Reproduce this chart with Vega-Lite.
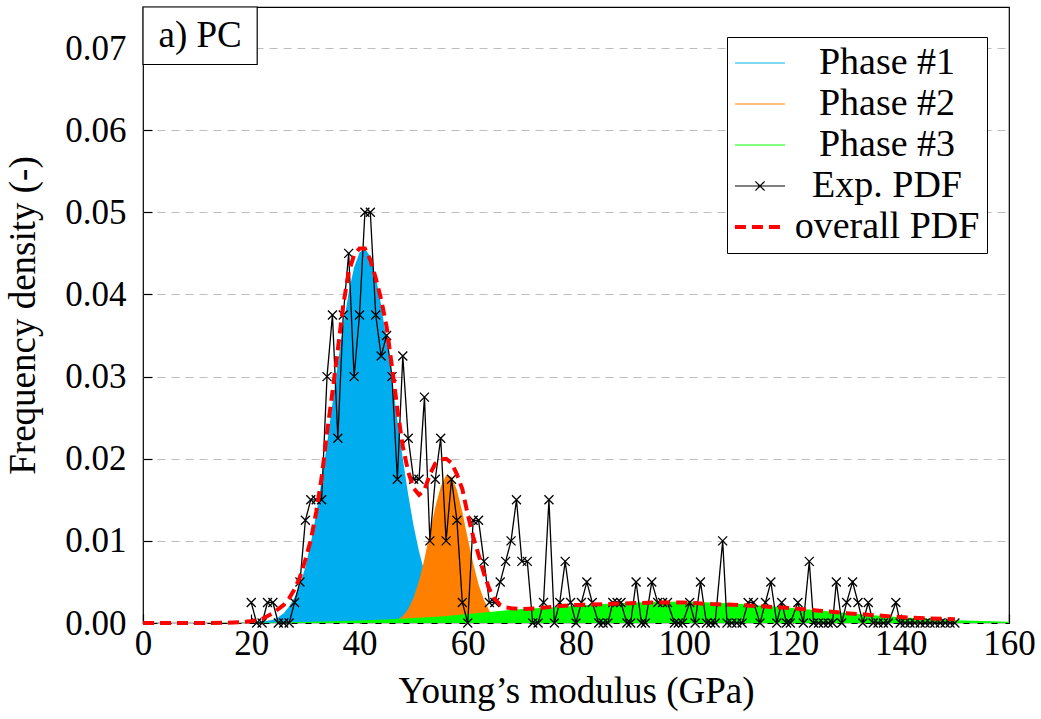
{
  "$schema": "https://vega.github.io/schema/vega-lite/v6.json",
  "width": 866,
  "height": 616,
  "autosize": {"type": "none"},
  "padding": {"left": 143, "top": 7, "right": 32, "bottom": 96},
  "background": "white",
  "config": {
    "view": {"stroke": "black", "strokeWidth": 1.2},
    "font": "Liberation Serif",
    "axis": {
      "labelFont": "Liberation Serif", "titleFont": "Liberation Serif",
      "labelFontSize": 35, "titleFontSize": 37, "titleFontWeight": "normal",
      "labelColor": "black", "titleColor": "black", "domain": false,
      "tickColor": "black", "tickSize": -9, "tickWidth": 1.2,
      "labelFlush": false, "labelOverlap": false
    },
    "legend": {
      "orient": "none", "legendX": 584, "legendY": 30,
      "fillColor": "white", "strokeColor": "black", "padding": 7,
      "labelFont": "Liberation Serif", "labelFontSize": 38, "labelColor": "black",
      "labelAlign": "center", "labelOffset": 108, "labelLimit": 400,
      "symbolType": "stroke", "symbolSize": 1444, "symbolStrokeWidth": 1.2, "symbolOffset": 7,
      "symbolOpacity": 1, "rowPadding": 3
    }
  },
  "datasets": {
    "p1": [
      {"x": 0, "y": 0}, {"x": 18, "y": 0.00001}, {"x": 20, "y": 0.00005}, {"x": 22, "y": 0.00016},
      {"x": 24, "y": 0.0004}, {"x": 25, "y": 0.0007}, {"x": 26, "y": 0.0012}, {"x": 27, "y": 0.002},
      {"x": 28, "y": 0.0031}, {"x": 29, "y": 0.0047}, {"x": 30, "y": 0.0068}, {"x": 31, "y": 0.0097},
      {"x": 32, "y": 0.0132}, {"x": 33, "y": 0.0173}, {"x": 34, "y": 0.0218}, {"x": 35, "y": 0.0267},
      {"x": 36, "y": 0.0316}, {"x": 37, "y": 0.0362}, {"x": 38, "y": 0.0402}, {"x": 39, "y": 0.0433},
      {"x": 40, "y": 0.0451}, {"x": 41, "y": 0.0456}, {"x": 42, "y": 0.0446}, {"x": 43, "y": 0.0422},
      {"x": 44, "y": 0.0387}, {"x": 45, "y": 0.0344}, {"x": 46, "y": 0.0296}, {"x": 47, "y": 0.0247},
      {"x": 48, "y": 0.02}, {"x": 49, "y": 0.0156}, {"x": 50, "y": 0.0118}, {"x": 51, "y": 0.0087},
      {"x": 52, "y": 0.0062}, {"x": 53, "y": 0.0043}, {"x": 54, "y": 0.0028}, {"x": 55, "y": 0.0018},
      {"x": 56, "y": 0.0012}, {"x": 57, "y": 0.0007}, {"x": 58, "y": 0.0004}, {"x": 60, "y": 0.00013},
      {"x": 62, "y": 0.00004}, {"x": 65, "y": 0}, {"x": 160, "y": 0}
    ],
    "p2": [
      {"x": 0, "y": 0}, {"x": 44, "y": 0}, {"x": 46, "y": 0.00017}, {"x": 47, "y": 0.0004},
      {"x": 48, "y": 0.00086}, {"x": 49, "y": 0.0017}, {"x": 50, "y": 0.0031}, {"x": 51, "y": 0.0051},
      {"x": 52, "y": 0.0078}, {"x": 53, "y": 0.011}, {"x": 54, "y": 0.0141}, {"x": 55, "y": 0.0166},
      {"x": 56, "y": 0.018}, {"x": 57, "y": 0.0178}, {"x": 58, "y": 0.0162}, {"x": 59, "y": 0.0135},
      {"x": 60, "y": 0.0103}, {"x": 61, "y": 0.0073}, {"x": 62, "y": 0.0047}, {"x": 63, "y": 0.0028},
      {"x": 64, "y": 0.0015}, {"x": 65, "y": 0.0007}, {"x": 66, "y": 0.0003}, {"x": 67, "y": 0.00014},
      {"x": 68, "y": 0.00005}, {"x": 70, "y": 0}, {"x": 160, "y": 0}
    ],
    "p3": [
      {"x": 0, "y": 0.000002}, {"x": 10, "y": 0.00001}, {"x": 20, "y": 0.00004}, {"x": 25, "y": 0.00007},
      {"x": 30, "y": 0.00012}, {"x": 35, "y": 0.0002}, {"x": 40, "y": 0.0003}, {"x": 45, "y": 0.00042},
      {"x": 50, "y": 0.0006}, {"x": 55, "y": 0.0008}, {"x": 60, "y": 0.0011}, {"x": 65, "y": 0.0014},
      {"x": 70, "y": 0.0017}, {"x": 75, "y": 0.0019}, {"x": 80, "y": 0.0021}, {"x": 85, "y": 0.00232},
      {"x": 90, "y": 0.00248}, {"x": 95, "y": 0.00258}, {"x": 100, "y": 0.00259}, {"x": 105, "y": 0.00251},
      {"x": 110, "y": 0.00234}, {"x": 115, "y": 0.0021}, {"x": 120, "y": 0.00182}, {"x": 125, "y": 0.00152},
      {"x": 130, "y": 0.00122}, {"x": 135, "y": 0.00095}, {"x": 140, "y": 0.00071}, {"x": 145, "y": 0.00051},
      {"x": 150, "y": 0.00035}, {"x": 155, "y": 0.00024}, {"x": 160, "y": 0.00015}
    ],
    "overall": [
      {"x": 0, "y": 0}, {"x": 10, "y": 0}, {"x": 15, "y": 0.00002}, {"x": 18, "y": 0.0001},
      {"x": 20, "y": 0.0002}, {"x": 22, "y": 0.0005}, {"x": 24, "y": 0.0012}, {"x": 26, "y": 0.0022},
      {"x": 27, "y": 0.003}, {"x": 28, "y": 0.0041}, {"x": 29, "y": 0.0056}, {"x": 30, "y": 0.0077},
      {"x": 31, "y": 0.0101}, {"x": 32, "y": 0.0135}, {"x": 33, "y": 0.0177}, {"x": 34, "y": 0.0232},
      {"x": 35, "y": 0.0281}, {"x": 36, "y": 0.0333}, {"x": 37, "y": 0.0387}, {"x": 38, "y": 0.0427},
      {"x": 39, "y": 0.0448}, {"x": 40, "y": 0.0456}, {"x": 41, "y": 0.0456}, {"x": 42, "y": 0.0442},
      {"x": 43, "y": 0.042}, {"x": 44, "y": 0.0394}, {"x": 45, "y": 0.0361}, {"x": 46, "y": 0.0312},
      {"x": 47, "y": 0.026}, {"x": 48, "y": 0.0215}, {"x": 49, "y": 0.0184}, {"x": 50, "y": 0.0164},
      {"x": 51, "y": 0.0156}, {"x": 52, "y": 0.0162}, {"x": 53, "y": 0.0181}, {"x": 54, "y": 0.0194},
      {"x": 55, "y": 0.0199}, {"x": 56, "y": 0.02}, {"x": 57, "y": 0.0195}, {"x": 58, "y": 0.0181},
      {"x": 59, "y": 0.0163}, {"x": 60, "y": 0.0132}, {"x": 61, "y": 0.0105}, {"x": 62, "y": 0.0083},
      {"x": 63, "y": 0.006}, {"x": 64, "y": 0.0041}, {"x": 65, "y": 0.0029}, {"x": 66, "y": 0.0022},
      {"x": 67, "y": 0.0019}, {"x": 68, "y": 0.0018}, {"x": 70, "y": 0.0017}, {"x": 73, "y": 0.0018},
      {"x": 76, "y": 0.002}, {"x": 80, "y": 0.0022}, {"x": 85, "y": 0.0023}, {"x": 90, "y": 0.0024},
      {"x": 95, "y": 0.0025}, {"x": 100, "y": 0.0025}, {"x": 105, "y": 0.0023}, {"x": 110, "y": 0.0022},
      {"x": 115, "y": 0.002}, {"x": 120, "y": 0.0018}, {"x": 125, "y": 0.0015}, {"x": 130, "y": 0.0012},
      {"x": 135, "y": 0.00095}, {"x": 140, "y": 0.00072}, {"x": 145, "y": 0.00057}, {"x": 150, "y": 0.00045}
    ],
    "exp": [
      {"x": 20, "y": 0.0025}, {"x": 21, "y": 0}, {"x": 22, "y": 0}, {"x": 23, "y": 0.0025}, {"x": 24, "y": 0.0025},
      {"x": 25, "y": 0}, {"x": 26, "y": 0}, {"x": 27, "y": 0}, {"x": 28, "y": 0.0025}, {"x": 29, "y": 0.005},
      {"x": 30, "y": 0.0125}, {"x": 31, "y": 0.015}, {"x": 32, "y": 0.015}, {"x": 33, "y": 0.015}, {"x": 34, "y": 0.03},
      {"x": 35, "y": 0.0375}, {"x": 36, "y": 0.0225}, {"x": 37, "y": 0.0375}, {"x": 38, "y": 0.045}, {"x": 39, "y": 0.03},
      {"x": 40, "y": 0.0375}, {"x": 41, "y": 0.05}, {"x": 42, "y": 0.05}, {"x": 43, "y": 0.0375}, {"x": 44, "y": 0.0325},
      {"x": 45, "y": 0.035}, {"x": 46, "y": 0.03}, {"x": 47, "y": 0.0175}, {"x": 48, "y": 0.0325}, {"x": 49, "y": 0.0225},
      {"x": 50, "y": 0.0175}, {"x": 51, "y": 0.0175}, {"x": 52, "y": 0.0275}, {"x": 53, "y": 0.01}, {"x": 54, "y": 0.0175},
      {"x": 55, "y": 0.0225}, {"x": 56, "y": 0.01}, {"x": 57, "y": 0.0175}, {"x": 58, "y": 0.0125}, {"x": 59, "y": 0.0025},
      {"x": 60, "y": 0}, {"x": 61, "y": 0.0125}, {"x": 62, "y": 0.0125}, {"x": 63, "y": 0.0075}, {"x": 64, "y": 0.0025},
      {"x": 65, "y": 0.0025}, {"x": 66, "y": 0.005}, {"x": 67, "y": 0.0075}, {"x": 68, "y": 0.01}, {"x": 69, "y": 0.015},
      {"x": 70, "y": 0.0075}, {"x": 71, "y": 0.0075}, {"x": 72, "y": 0}, {"x": 73, "y": 0}, {"x": 74, "y": 0.0025},
      {"x": 75, "y": 0.015}, {"x": 76, "y": 0}, {"x": 77, "y": 0.0025}, {"x": 78, "y": 0.0075}, {"x": 79, "y": 0.0025},
      {"x": 80, "y": 0}, {"x": 81, "y": 0.0025}, {"x": 82, "y": 0.005}, {"x": 83, "y": 0.0025}, {"x": 84.2, "y": 0},
      {"x": 85, "y": 0}, {"x": 85.9, "y": 0}, {"x": 86.8, "y": 0.0025}, {"x": 87.6, "y": 0.0025}, {"x": 88.3, "y": 0.0025},
      {"x": 89.4, "y": 0}, {"x": 90.1, "y": 0}, {"x": 91.1, "y": 0.005}, {"x": 92.1, "y": 0}, {"x": 92.8, "y": 0},
      {"x": 94, "y": 0.005}, {"x": 95.1, "y": 0.0025}, {"x": 96, "y": 0.0025}, {"x": 96.9, "y": 0.0025}, {"x": 98.2, "y": 0},
      {"x": 98.9, "y": 0}, {"x": 99.7, "y": 0}, {"x": 101, "y": 0.0025}, {"x": 102, "y": 0}, {"x": 103, "y": 0.005},
      {"x": 104.1, "y": 0}, {"x": 104.9, "y": 0}, {"x": 105.7, "y": 0}, {"x": 107.1, "y": 0.01}, {"x": 107.9, "y": 0},
      {"x": 108.8, "y": 0}, {"x": 109.7, "y": 0}, {"x": 110.7, "y": 0}, {"x": 111.8, "y": 0.0025}, {"x": 112.8, "y": 0.0025},
      {"x": 114, "y": 0}, {"x": 115, "y": 0.0025}, {"x": 116, "y": 0.005}, {"x": 117.1, "y": 0}, {"x": 118, "y": 0.0025},
      {"x": 118.9, "y": 0}, {"x": 119.6, "y": 0}, {"x": 121, "y": 0.0025}, {"x": 122, "y": 0}, {"x": 123.1, "y": 0.0075},
      {"x": 123.9, "y": 0}, {"x": 124.8, "y": 0}, {"x": 125.7, "y": 0}, {"x": 126.6, "y": 0}, {"x": 127.4, "y": 0},
      {"x": 128.1, "y": 0.005}, {"x": 129.1, "y": 0}, {"x": 130, "y": 0.0025}, {"x": 131.1, "y": 0.005}, {"x": 132.1, "y": 0.0025},
      {"x": 133, "y": 0}, {"x": 134, "y": 0.0025}, {"x": 134.9, "y": 0}, {"x": 135.8, "y": 0}, {"x": 136.8, "y": 0},
      {"x": 137.7, "y": 0}, {"x": 139.1, "y": 0.0025}, {"x": 139.9, "y": 0}, {"x": 140.8, "y": 0}, {"x": 141.7, "y": 0},
      {"x": 142.6, "y": 0}, {"x": 143.6, "y": 0}, {"x": 144.5, "y": 0}, {"x": 145.4, "y": 0}, {"x": 146.3, "y": 0},
      {"x": 147.3, "y": 0}, {"x": 148.2, "y": 0}, {"x": 149.1, "y": 0}, {"x": 150, "y": 0}
    ]
  },
  "layer": [
    {
      "data": {"name": "p1"},
      "mark": {"type": "area", "opacity": 1},
      "encoding": {
        "x": {"field": "x", "type": "quantitative",
          "scale": {"domain": [0, 160], "nice": false, "zero": false},
          "axis": {"values": [0, 20, 40, 60, 80, 100, 120, 140, 160], "title": "Young’s modulus (GPa)", "grid": false, "labelPadding": 12, "titlePadding": 12}},
        "y": {"field": "y", "type": "quantitative",
          "scale": {"domain": [0, 0.075], "nice": false},
          "axis": {"values": [0, 0.01, 0.02, 0.03, 0.04, 0.05, 0.06, 0.07], "format": ".2f", "title": "Frequency density (-)", "grid": true, "gridDash": [8, 6], "gridColor": "#bdbdbd", "gridWidth": 1.2, "labelPadding": 26, "titlePadding": 22}},
        "color": {"datum": "Phase #1", "type": "nominal",
          "scale": {"domain": ["Phase #1", "Phase #2", "Phase #3", "Exp. PDF", "overall PDF"], "range": ["#00AEEF", "#FF8000", "#00FF00", "#000000", "#FF0000"]},
          "legend": {
            "title": null,
            "encode": {
              "symbols": {
                "update": {
                  "shape": {"signal": "datum.value === 'Exp. PDF' ? 'M-1.32,0L1.32,0M-0.24,-0.24L0.24,0.24M-0.24,0.24L0.24,-0.24' : 'M-1.32,0L1.32,0'"},
                  "strokeDash": {"signal": "datum.value === 'overall PDF' ? [11, 6] : [1, 0]"},
                  "strokeWidth": {"signal": "datum.value === 'overall PDF' ? 4 : 1.2"},
                  "fill": {"value": "transparent"},
                  "stroke": {"scale": "color", "field": "value"},
                  "opacity": {"value": 1}
                }
              }
            }
          }
        }
      }
    },
    {
      "data": {"name": "p2"},
      "mark": {"type": "area", "opacity": 1},
      "encoding": {
        "x": {"field": "x", "type": "quantitative"},
        "y": {"field": "y", "type": "quantitative"},
        "color": {"datum": "Phase #2", "type": "nominal",
          "legend": {
            "title": null,
            "encode": {
              "symbols": {
                "update": {
                  "shape": {"signal": "datum.value === 'Exp. PDF' ? 'M-1.32,0L1.32,0M-0.24,-0.24L0.24,0.24M-0.24,0.24L0.24,-0.24' : 'M-1.32,0L1.32,0'"},
                  "strokeDash": {"signal": "datum.value === 'overall PDF' ? [11, 6] : [1, 0]"},
                  "strokeWidth": {"signal": "datum.value === 'overall PDF' ? 4 : 1.2"},
                  "fill": {"value": "transparent"},
                  "stroke": {"scale": "color", "field": "value"},
                  "opacity": {"value": 1}
                }
              }
            }
          }}
      }
    },
    {
      "data": {"name": "p3"},
      "mark": {"type": "area", "opacity": 1},
      "encoding": {
        "x": {"field": "x", "type": "quantitative"},
        "y": {"field": "y", "type": "quantitative"},
        "color": {"datum": "Phase #3", "type": "nominal",
          "legend": {
            "title": null,
            "encode": {
              "symbols": {
                "update": {
                  "shape": {"signal": "datum.value === 'Exp. PDF' ? 'M-1.32,0L1.32,0M-0.24,-0.24L0.24,0.24M-0.24,0.24L0.24,-0.24' : 'M-1.32,0L1.32,0'"},
                  "strokeDash": {"signal": "datum.value === 'overall PDF' ? [11, 6] : [1, 0]"},
                  "strokeWidth": {"signal": "datum.value === 'overall PDF' ? 4 : 1.2"},
                  "fill": {"value": "transparent"},
                  "stroke": {"scale": "color", "field": "value"},
                  "opacity": {"value": 1}
                }
              }
            }
          }}
      }
    },
    {
      "data": {"name": "exp"},
      "mark": {"type": "line", "strokeWidth": 1.3},
      "encoding": {
        "x": {"field": "x", "type": "quantitative"},
        "y": {"field": "y", "type": "quantitative"},
        "color": {"datum": "Exp. PDF", "type": "nominal",
          "legend": {
            "title": null,
            "encode": {
              "symbols": {
                "update": {
                  "shape": {"signal": "datum.value === 'Exp. PDF' ? 'M-1.32,0L1.32,0M-0.24,-0.24L0.24,0.24M-0.24,0.24L0.24,-0.24' : 'M-1.32,0L1.32,0'"},
                  "strokeDash": {"signal": "datum.value === 'overall PDF' ? [11, 6] : [1, 0]"},
                  "strokeWidth": {"signal": "datum.value === 'overall PDF' ? 4 : 1.2"},
                  "fill": {"value": "transparent"},
                  "stroke": {"scale": "color", "field": "value"},
                  "opacity": {"value": 1}
                }
              }
            }
          }}
      }
    },
    {
      "data": {"name": "exp"},
      "mark": {"type": "point", "shape": "M-1,-1L1,1M-1,1L1,-1", "filled": false, "size": 81, "stroke": "black", "strokeWidth": 1.3, "opacity": 1},
      "encoding": {
        "x": {"field": "x", "type": "quantitative"},
        "y": {"field": "y", "type": "quantitative"}
      }
    },
    {
      "data": {"name": "overall"},
      "mark": {"type": "line", "strokeWidth": 4, "strokeDash": [11, 6]},
      "encoding": {
        "x": {"field": "x", "type": "quantitative"},
        "y": {"field": "y", "type": "quantitative"},
        "color": {"datum": "overall PDF", "type": "nominal",
          "legend": {
            "title": null,
            "encode": {
              "symbols": {
                "update": {
                  "shape": {"signal": "datum.value === 'Exp. PDF' ? 'M-1.32,0L1.32,0M-0.24,-0.24L0.24,0.24M-0.24,0.24L0.24,-0.24' : 'M-1.32,0L1.32,0'"},
                  "strokeDash": {"signal": "datum.value === 'overall PDF' ? [11, 6] : [1, 0]"},
                  "strokeWidth": {"signal": "datum.value === 'overall PDF' ? 4 : 1.2"},
                  "fill": {"value": "transparent"},
                  "stroke": {"scale": "color", "field": "value"},
                  "opacity": {"value": 1}
                }
              }
            }
          }}
      }
    },
    {
      "data": {"values": [{"label": "a) PC"}]},
      "mark": {"type": "rect", "fill": "white", "stroke": "black", "strokeWidth": 1.2},
      "encoding": {
        "x": {"datum": 0, "type": "quantitative"},
        "x2": {"datum": 21.1},
        "y": {"datum": 0.068, "type": "quantitative"},
        "y2": {"datum": 0.075}
      }
    },
    {
      "data": {"values": [{"label": "a) PC"}]},
      "mark": {"type": "text", "font": "Liberation Serif", "fontSize": 37, "align": "center", "baseline": "middle", "color": "black"},
      "encoding": {
        "x": {"datum": 10.55, "type": "quantitative"},
        "y": {"datum": 0.0715, "type": "quantitative"},
        "text": {"field": "label"}
      }
    }
  ]
}
